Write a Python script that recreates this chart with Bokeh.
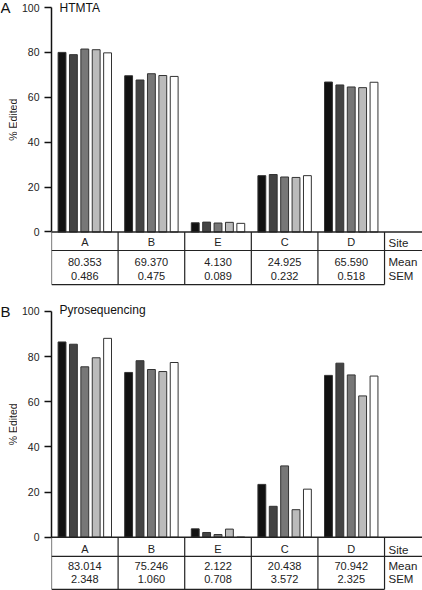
from bokeh.plotting import figure
from bokeh.layouts import column, row
from bokeh.models import Range1d, FixedTicker, Label, ColumnDataSource
from bokeh.core.properties import value
from bokeh.embed import file_html
from bokeh.resources import INLINE

# ---------------- data ----------------
sites = ["A", "B", "E", "C", "D"]
tick_values = [0, 20, 40, 60, 80, 100]

# HTMTA, five samples per site
htmta_s1 = [80.0, 69.6, 4.1, 25.1, 66.8]
htmta_s2 = [79.0, 67.7, 4.4, 25.6, 65.5]
htmta_s3 = [81.5, 70.5, 4.0, 24.5, 64.6]
htmta_s4 = [81.2, 69.7, 4.3, 24.3, 64.3]
htmta_s5 = [79.8, 69.3, 3.85, 25.1, 66.7]
htmta_mean = [80.353, 69.370, 4.130, 24.925, 65.590]
htmta_sem = [0.486, 0.475, 0.089, 0.232, 0.518]

# Pyrosequencing, five samples per site
pyro_s1 = [86.5, 73.0, 3.7, 23.4, 71.7]
pyro_s2 = [85.5, 78.2, 2.1, 13.7, 77.1]
pyro_s3 = [75.5, 74.3, 1.2, 31.6, 71.9]
pyro_s4 = [79.5, 73.4, 3.6, 12.2, 62.6]
pyro_s5 = [88.1, 77.4, 0.0, 21.3, 71.4]
pyro_mean = [83.014, 75.246, 2.122, 20.438, 70.942]
pyro_sem = [2.348, 1.060, 0.708, 3.572, 2.325]

sample_colors = ["#111111", "#444444", "#777777", "#bbbbbb", "#ffffff"]

FONT = "Liberation Sans"
SIDE_W = 17


def make_panel(letter, title, series, means, sems, height, y_lo, y_hi, rows, title_dy):
    site_y, div_y, mean_y, sem_y, bot_y = rows
    yr = Range1d(y_lo, y_hi)

    # narrow strip on the left holding the panel letter and the y-axis title
    s = figure(width=SIDE_W, height=height, output_backend="svg", toolbar_location=None,
               x_range=Range1d(0, SIDE_W), y_range=yr,
               x_axis_location=None, y_axis_location=None,
               min_border_left=0, min_border_right=0, min_border_top=0, min_border_bottom=0)
    s.outline_line_color = None
    s.xgrid.visible = False
    s.ygrid.visible = False
    s.text(x=[0], y=[100], text=[letter], text_font=value(FONT), text_font_size="15px",
           text_align="left", text_baseline="middle", text_color="#111111")
    s.text(x=[12], y=[50], text=["% Edited"], angle=1.5707963, text_font=value(FONT),
           text_font_size="10.5px", text_align="center", text_baseline="middle",
           text_color="#222222")

    p = figure(width=422 - SIDE_W, height=height, output_backend="svg", toolbar_location=None,
               x_range=Range1d(-0.5, 5.07), y_range=yr,
               x_axis_location=None, min_border_left=51 - SIDE_W, min_border_right=0,
               min_border_top=0, min_border_bottom=0)
    p.outline_line_color = None
    p.xgrid.visible = False
    p.ygrid.visible = False

    ax = p.yaxis[0]
    ax.ticker = FixedTicker(ticks=tick_values)
    ax.bounds = (0, 100)
    ax.minor_tick_line_color = None
    ax.major_tick_in = 0
    ax.major_tick_out = 7
    ax.major_tick_line_width = 1.5
    ax.axis_line_width = 1.5
    ax.axis_line_color = "#111111"
    ax.major_tick_line_color = "#111111"
    ax.major_label_standoff = 5
    ax.major_label_text_font = FONT
    ax.major_label_text_font_size = "10.5px"
    ax.major_label_text_color = "#222222"

    # bars
    n = len(series)
    pitch = 0.171
    for k, vals in enumerate(series):
        xs = [i + (k - (n - 1) / 2) * pitch for i in range(len(sites))]
        src = ColumnDataSource(dict(x=xs, top=vals))
        p.vbar(x="x", top="top", bottom=0, width=0.118, source=src,
               fill_color=sample_colors[k], line_color="#333333", line_width=1)

    # table lines
    nsite = len(sites)
    right = 5.07
    p.segment(x0=[-0.5, -0.5, -0.5], y0=[0, div_y, bot_y],
              x1=[right, right, nsite - 0.5], y1=[0, div_y, bot_y],
              line_color="#222222", line_width=[1.5, 1.2, 1.2])
    vx = [i - 0.5 for i in range(nsite + 1)]
    p.segment(x0=vx, y0=[0] * len(vx), x1=vx, y1=[bot_y] * len(vx),
              line_color="#222222", line_width=1.2)

    # table texts
    xi = list(range(nsite))
    p.text(x=xi, y=[site_y] * nsite, text=sites, text_font=value(FONT),
           text_font_size="11px", text_align="center", text_baseline="middle",
           text_color="#222222")
    p.text(x=xi, y=[mean_y] * nsite, text=[f"{m:.3f}" for m in means],
           text_font=value(FONT), text_font_size="11px", text_align="center",
           text_baseline="middle", text_color="#222222")
    p.text(x=xi, y=[sem_y] * nsite, text=[f"{v:.3f}" for v in sems],
           text_font=value(FONT), text_font_size="11px", text_align="center",
           text_baseline="middle", text_color="#222222")
    p.text(x=[nsite - 0.5] * 3, y=[site_y - 0.6, mean_y, sem_y],
           text=["Site", "Mean", "SEM"], x_offset=4, text_font=value(FONT),
           text_font_size="11.5px", text_align="left", text_baseline="middle",
           text_color="#222222")

    p.add_layout(Label(x=-0.5, y=100, x_offset=8, y_offset=title_dy, text=title,
                       text_font=FONT, text_font_size="12px", text_align="left",
                       text_baseline="middle", text_color="#111111"))
    return row(s, p, spacing=0)


pA = make_panel("A", "HTMTA",
                [htmta_s1, htmta_s2, htmta_s3, htmta_s4, htmta_s5],
                htmta_mean, htmta_sem, 290, -26.06, 103.12,
                (-4.45, -8.24, -13.4, -19.5, -23.4), 0)
pB = make_panel("B", "Pyrosequencing",
                [pyro_s1, pyro_s2, pyro_s3, pyro_s4, pyro_s5],
                pyro_mean, pyro_sem, 300, -23.6, 109.3,
                (-5.0, -8.5, -12.7, -18.7, -23.1), 1.5)

layout = column(pA, pB, spacing=0)

open("out.html", "w").write(file_html(layout, INLINE))
